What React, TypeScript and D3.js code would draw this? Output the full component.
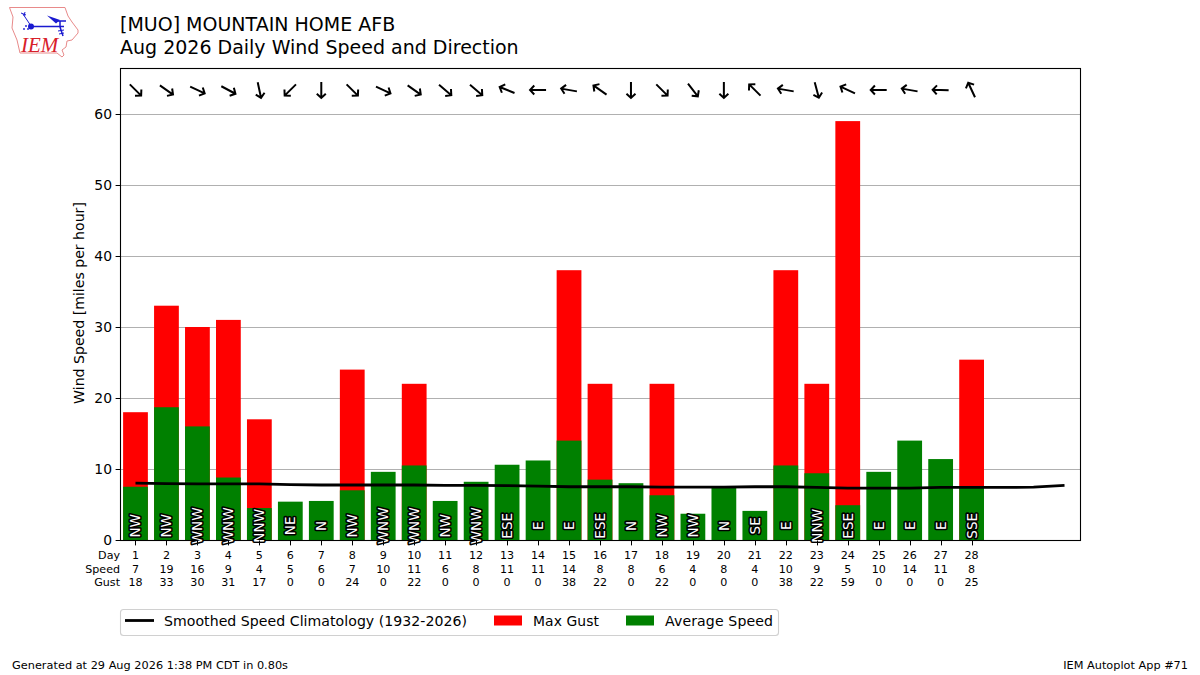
import React from "react";
import * as d3 from "d3";

const days = d3.range(1, 29);
const avgSpeed = [7.5, 18.7, 16, 8.8, 4.5, 5.4, 5.5, 7, 9.6, 10.5, 5.5, 8.2, 10.6, 11.2, 14, 8.5, 8, 6.3, 3.7, 7.5, 4.1, 10.5, 9.4, 4.9, 9.6, 14, 11.4, 7.6];
const maxGust = [18, 33, 30, 31, 17, 0, 0, 24, 0, 22, 0, 0, 0, 0, 38, 22, 0, 22, 0, 0, 0, 38, 22, 59, 0, 0, 0, 25.4];
const speedLabels = [7, 19, 16, 9, 4, 5, 6, 7, 10, 11, 6, 8, 11, 11, 14, 8, 8, 6, 4, 8, 4, 10, 9, 5, 10, 14, 11, 8];
const gustLabels = [18, 33, 30, 31, 17, 0, 0, 24, 0, 22, 0, 0, 0, 0, 38, 22, 0, 22, 0, 0, 0, 38, 22, 59, 0, 0, 0, 25];
const dirLabels = ["NW", "NW", "WNW", "WNW", "NNW", "NE", "N", "NW", "WNW", "WNW", "NW", "WNW", "ESE", "E", "E", "ESE", "N", "NW", "NW", "N", "SE", "E", "NNW", "ESE", "E", "E", "E", "SSE"];
const dirDegrees = [315, 305, 295, 298, 348, 45, 0, 315, 295, 305, 310, 310, 112, 90, 100, 125, 0, 315, 322, 0, 135, 100, 345, 115, 90, 100, 92, 155];
const climoDays = d3.range(1, 32);
const climo = [8, 7.95, 7.9, 7.9, 7.9, 7.8, 7.75, 7.75, 7.75, 7.75, 7.7, 7.7, 7.65, 7.6, 7.5, 7.5, 7.5, 7.45, 7.45, 7.45, 7.5, 7.5, 7.4, 7.3, 7.3, 7.3, 7.4, 7.4, 7.4, 7.45, 7.7];
const yTicks = [0, 10, 20, 30, 40, 50, 60];

const FONT = "'DejaVu Sans', sans-serif";
const L = 120.5, R = 1080.5, T = 68.5, B = 540.5;
const x = d3.scaleLinear().domain([0.5, 31.5]).range([120, 1080]);
const y = d3.scaleLinear().domain([0, 66.48]).range([540, 68]);
const snap = (v: number) => Math.round(v) + 0.5;
const barW = x(1.8) - x(1);
const climoLine = d3.line<number>().x((_, i) => x(climoDays[i])).y((d) => y(d));

function Logo() {
  return (
    <g>
      <path d="M9.5 7.5 L65 7.5 L68 16 L72 22 L78 30 L78 33 L72 40 L67 41 L66 47 L62 50 L64 55 L62 57 L57 53 L20 53 L17 40 L12 28 L13 17 Z" fill="#fff" stroke="#e88a8a" strokeWidth={1} />
      <path d="M31 26.5 L64 26.5 M56 21 L66 21 M60 21 L60 27 M60 27 L63 36" fill="none" stroke="#1a1ad0" strokeWidth={1.5} />
      <path d="M47 15.5 L60 20 L56 23.5 Z" fill="#1a1ad0" />
      <path d="M23 14 L31 26 M21 13 L26 15 M25 12 L24 16" fill="none" stroke="#1a1ad0" strokeWidth={1} />
      <circle cx={31} cy={26.5} r={3} fill="#1a1ad0" />
      <path d="M58 31 L64 30 M59 34 L64 33" stroke="#1a1ad0" strokeWidth={1} fill="none" />
      <circle cx={24} cy={29} r={0.9} fill="#1a1ad0" />
      <circle cx={26} cy={26} r={0.9} fill="#1a1ad0" />
      <circle cx={28} cy={29} r={0.9} fill="#1a1ad0" />
      <text x={21} y={52} fontFamily="'Liberation Serif', serif" fontStyle="italic" fontSize={21} fill="#d8202a">IEM</text>
    </g>
  );
}

function Arrow({ cx, cy, deg }: { cx: number; cy: number; deg: number }) {
  return (
    <path
      d="M0 -8 L0 8 M-4.5 3.8 L0 8 L4.5 3.8"
      transform={`translate(${cx},${cy}) rotate(${deg})`}
      fill="none"
      stroke="#000"
      strokeWidth={2}
    />
  );
}

export default function App() {
  return (
    <svg width={1200} height={675} viewBox="0 0 1200 675" style={{ position: "absolute", left: 0, top: 0, background: "#fff" }} fontFamily={FONT}>
      <Logo />
      <text x={120} y={31} fontSize={19} fill="#000">[MUO] MOUNTAIN HOME AFB</text>
      <text x={120} y={54} fontSize={19} fill="#000">Aug 2026 Daily Wind Speed and Direction</text>

      {yTicks.slice(1).map((t) => (
        <line key={t} x1={L} x2={R} y1={snap(y(t))} y2={snap(y(t))} stroke="#b0b0b0" strokeWidth={1} />
      ))}
      {days.map((d, i) =>
        maxGust[i] > 0 ? (
          <rect key={d} x={x(d) - barW / 2} width={barW} y={y(maxGust[i])} height={y(0) - y(maxGust[i])} fill="#ff0000" />
        ) : null
      )}
      {days.map((d, i) => (
        <rect key={d} x={x(d) - barW / 2} width={barW} y={y(avgSpeed[i])} height={y(0) - y(avgSpeed[i])} fill="#008000" />
      ))}
      <path d={climoLine(climo) ?? ""} fill="none" stroke="#000" strokeWidth={2.8} />

      <rect x={L} y={T} width={R - L} height={B - T} fill="none" stroke="#000" strokeWidth={1.1} />

      {days.map((d, i) => (
        <text
          key={d}
          transform={`translate(${x(d)},${y(2)}) rotate(-90)`}
          textAnchor="middle"
          dy="0.36em"
          fontSize={13.6}
          fill="#fff"
          stroke="#000"
          strokeWidth={3.2}
          paintOrder="stroke"
          strokeLinejoin="round"
        >
          {dirLabels[i]}
        </text>
      ))}
      {days.map((d, i) => (
        <Arrow key={d} cx={x(d)} cy={90} deg={dirDegrees[i]} />
      ))}

      {yTicks.map((t) => (
        <g key={t}>
          <line x1={L - 4.9} x2={L} y1={snap(y(t))} y2={snap(y(t))} stroke="#000" strokeWidth={1} />
          <text x={L - 8.5} y={y(t) + 5} textAnchor="end" fontSize={13.9} fill="#000">{t}</text>
        </g>
      ))}
      <text transform={`translate(84,303) rotate(-90)`} textAnchor="middle" fontSize={14.1} fill="#000">Wind Speed [miles per hour]</text>

      {days.map((d, i) => (
        <g key={d} fontSize={11.1} fill="#000" textAnchor="middle">
          <line x1={snap(x(d))} x2={snap(x(d))} y1={B} y2={B + 4.9} stroke="#000" strokeWidth={1} />
          <text x={x(d)} y={559}>{d}</text>
          <text x={x(d)} y={573}>{speedLabels[i]}</text>
          <text x={x(d)} y={586}>{gustLabels[i]}</text>
        </g>
      ))}
      <g fontSize={11.1} fill="#000" textAnchor="end">
        <text x={120} y={559}>Day</text>
        <text x={120} y={573}>Speed</text>
        <text x={120} y={586}>Gust</text>
      </g>

      <rect x={120.5} y={609.5} width={658} height={26} rx={3} fill="#fff" stroke="#d0d0d0" strokeWidth={1.1} />
      <line x1={125} x2={154} y1={620.5} y2={620.5} stroke="#000" strokeWidth={2.8} />
      <text x={164} y={625.5} fontSize={14.1} fill="#000" textLength={303}>Smoothed Speed Climatology (1932-2026)</text>
      <rect x={494} y={615.5} width={28} height={10} fill="#ff0000" />
      <text x={533} y={625.5} fontSize={13.9} fill="#000" textLength={66}>Max Gust</text>
      <rect x={626} y={615.5} width={28} height={10} fill="#008000" />
      <text x={665} y={625.5} fontSize={14.1} fill="#000" textLength={108}>Average Speed</text>

      <text x={12} y={669} fontSize={11.3} fill="#000" textLength={276}>Generated at 29 Aug 2026 1:38 PM CDT in 0.80s</text>
      <text x={1188} y={669} fontSize={11.3} fill="#000" textAnchor="end">IEM Autoplot App #71</text>
    </svg>
  );
}
